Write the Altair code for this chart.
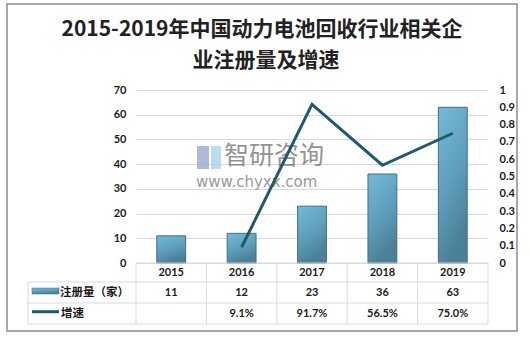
import altair as alt
import pandas as pd

# ---------------- data ----------------
years = ["2015", "2016", "2017", "2018", "2019"]
registrations = [11, 12, 23, 36, 63]
growth = [None, 0.091, 0.917, 0.565, 0.750]
growth_labels = ["", "9.1%", "91.7%", "56.5%", "75.0%"]
left_ticks = [0, 10, 20, 30, 40, 50, 60, 70]
right_ticks = [0, 0.1, 0.2, 0.3, 0.4, 0.5, 0.6, 0.7, 0.8, 0.9, 1]
title_lines = ["2015-2019年中国动力电池回收行业相关企", "业注册量及增速"]
row_labels = ["注册量（家）", "增速"]
watermark_name = "智研咨询"
watermark_url = "www.chyxx.com"

# ---------------- layout ----------------
W, H = 352, 173
PAD = {"left": 136, "top": 90, "right": 42, "bottom": 74}
n = len(years)
step = W / n
ROWS = [H, H + 19, H + 40, H + 61]
LABEL_X0 = -108
GRID = "#d9d9d9"
TXT = "#1a1a1a"
LINE_C = "#1c5b6c"
CJK = "Noto Sans CJK SC"
NUM = "Lato"

bar_grad = alt.Gradient(
    gradient="linear",
    stops=[alt.GradientStop(color="#74b9d8", offset=0),
           alt.GradientStop(color="#5f9fbd", offset=0.55),
           alt.GradientStop(color="#4b8096", offset=1)],
    x1=0, x2=0.35, y1=0, y2=1,
)

df = pd.DataFrame({
    "year": years,
    "count": registrations,
    "growth": growth,
    "growth_label": growth_labels,
})
df["count_label"] = df["count"].astype(str)

xenc = alt.X("year:N", sort=years, axis=None,
             scale=alt.Scale(type="band", paddingInner=0.59, paddingOuter=0.295))

base = alt.Chart(df)
one = alt.Chart(pd.DataFrame({"k": [0]}))

bars = base.mark_bar(color=bar_grad, stroke="#3e6f82", strokeWidth=1).encode(
    x=xenc,
    y=alt.Y("count:Q", scale=alt.Scale(domain=[0, 70], nice=False),
            axis=alt.Axis(values=left_ticks, orient="left", grid=True, gridColor=GRID,
                          domain=False, ticks=False, labelPadding=10, labelFont=NUM,
                          labelFontWeight="bold", labelFontSize=11, labelColor=TXT,
                          title=None)),
)

line = base.transform_filter("datum.growth != null").mark_line(
    color=LINE_C, strokeWidth=3).encode(
    x=xenc,
    y=alt.Y("growth:Q", scale=alt.Scale(domain=[0, 1], nice=False),
            axis=alt.Axis(values=right_ticks, orient="right", grid=False, format="~g",
                          domain=False, ticks=False, labelPadding=11, labelFont=NUM,
                          labelFontWeight="bold", labelFontSize=11, labelColor=TXT,
                          title=None)),
)

# title (two centred lines)
title_style = dict(font=CJK, fontSize=21, fontWeight="bold", color="#222222",
                   align="center", baseline="middle")
title1 = one.mark_text(text=title_lines[0], **title_style).encode(
    x=alt.value(126), y=alt.value(-60))
title2 = one.mark_text(text=title_lines[1], **title_style).encode(
    x=alt.value(130), y=alt.value(-29))

# watermark
wm_logo_a = one.mark_rect(color="#9aa9cf", opacity=0.8).encode(
    x=alt.value(61), x2=alt.value(73), y=alt.value(56), y2=alt.value(79))
wm_logo_b = one.mark_rect(color="#a9d2ec", opacity=0.8).encode(
    x=alt.value(75), x2=alt.value(85), y=alt.value(56), y2=alt.value(79))
wm_name = one.mark_text(text=watermark_name, font=CJK, fontSize=25, color="#7f7f7f",
                        opacity=0.85, align="left", baseline="middle").encode(
    x=alt.value(88), y=alt.value(66))
wm_url = one.mark_text(text=watermark_url, font="DejaVu Sans", fontSize=15, color="#8a8a8a",
                       opacity=0.85, align="left", baseline="middle").encode(
    x=alt.value(60), y=alt.value(92))

# table
txt_style = dict(font=NUM, fontWeight="bold", fontSize=11, color=TXT,
                 baseline="middle", align="center")
year_txt = base.mark_text(**txt_style).encode(
    x=xenc, y=alt.value((ROWS[0] + ROWS[1]) / 2 + 0.5), text="year:N")
count_txt = base.mark_text(**txt_style).encode(
    x=xenc, y=alt.value((ROWS[1] + ROWS[2]) / 2), text="count_label:N")
growth_txt = base.mark_text(**txt_style).encode(
    x=xenc, y=alt.value((ROWS[2] + ROWS[3]) / 2), text="growth_label:N")

lab1 = one.mark_text(text=row_labels[0], font=CJK, fontWeight="bold", fontSize=11.5,
                     color=TXT, align="left", baseline="middle").encode(
    x=alt.value(-76), y=alt.value((ROWS[1] + ROWS[2]) / 2))
lab2 = one.mark_text(text=row_labels[1], font=CJK, fontWeight="bold", fontSize=11.5,
                     color=TXT, align="left", baseline="middle").encode(
    x=alt.value(-75), y=alt.value((ROWS[2] + ROWS[3]) / 2))
icon_bar = one.mark_rect(color=bar_grad, stroke="#3e6f82", strokeWidth=0.5).encode(
    x=alt.value(-104), x2=alt.value(-77), y=alt.value(198), y2=alt.value(204))
icon_line = one.mark_rule(color=LINE_C, strokeWidth=3).encode(
    x=alt.value(-104), x2=alt.value(-77), y=alt.value(221.7))

rules = []
for i, yv in enumerate(ROWS):
    x0 = 0 if i == 0 else LABEL_X0
    rules.append(one.mark_rule(color=GRID, strokeWidth=1).encode(
        x=alt.value(x0), x2=alt.value(W), y=alt.value(yv)))
for k in range(n + 1):
    rules.append(one.mark_rule(color=GRID, strokeWidth=1).encode(
        x=alt.value(k * step), y=alt.value(ROWS[0]), y2=alt.value(ROWS[3])))
rules.append(one.mark_rule(color=GRID, strokeWidth=1).encode(
    x=alt.value(LABEL_X0), y=alt.value(ROWS[1]), y2=alt.value(ROWS[3])))

border = one.mark_rect(fillOpacity=0, stroke="#8c8c8c", strokeWidth=1.5).encode(
    x=alt.value(-129), x2=alt.value(381), y=alt.value(-86), y2=alt.value(241))

chart = alt.layer(
    border, title1, title2, bars, wm_logo_a, wm_logo_b, wm_name, wm_url, line,
    *rules, year_txt, count_txt, growth_txt, lab1, lab2, icon_bar, icon_line,
).resolve_scale(y="independent").properties(
    width=W, height=H,
    padding=PAD,
    autosize=alt.AutoSizeParams(type="none"),
    background="white",
).configure_view(stroke=None)

chart.save("out.html", embed_options={"renderer": "svg", "actions": False})
